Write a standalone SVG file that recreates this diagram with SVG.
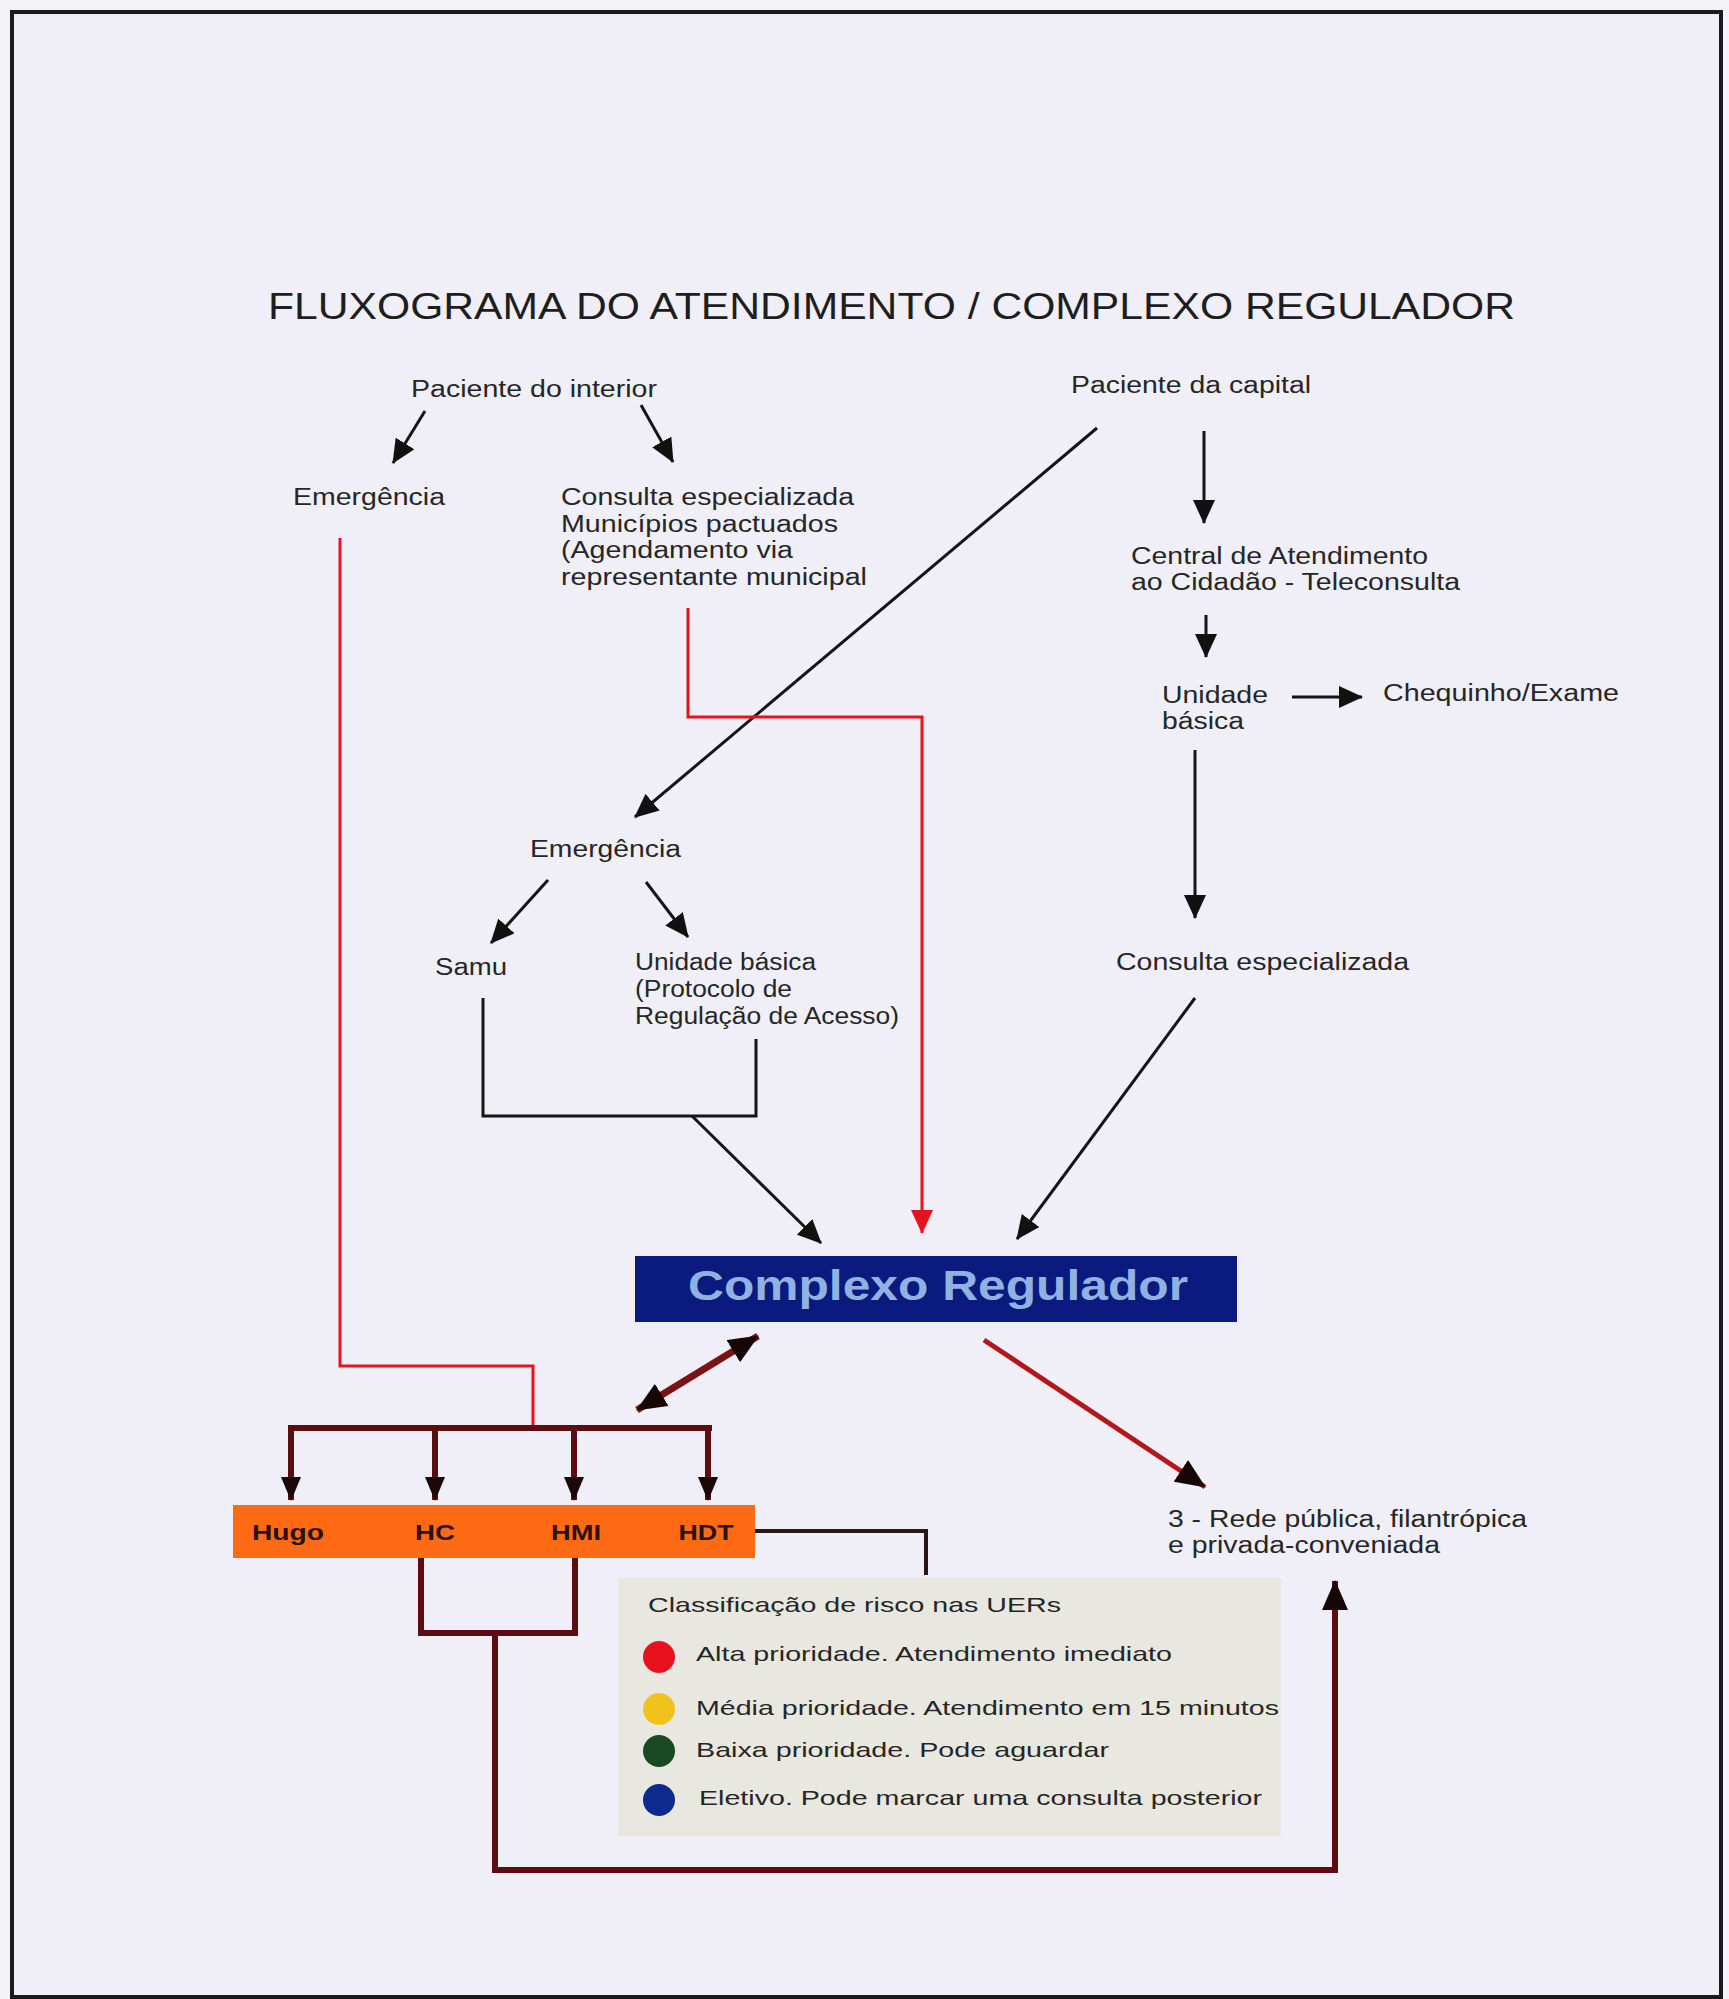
<svg xmlns="http://www.w3.org/2000/svg" width="1729" height="1999" viewBox="0 0 1729 1999">
<style>
.t{font-family:"Liberation Sans",Arial,sans-serif;font-size:23px;fill:#262626;}
.ttl{font-family:"Liberation Sans",Arial,sans-serif;font-size:36px;fill:#1e1e1e;}
.lg{font-family:"Liberation Sans",Arial,sans-serif;font-size:21px;fill:#262626;}
.hb{font-family:"Liberation Sans",Arial,sans-serif;font-size:22px;font-weight:bold;fill:#2a1208;text-anchor:middle;}
.cr{font-family:"Liberation Sans",Arial,sans-serif;font-size:42px;font-weight:bold;fill:#8fb2e2;}
.bk{fill:none;stroke:#151515;stroke-width:3;}
.rd{fill:none;stroke:#e3141c;stroke-width:3;}
.dr{fill:none;stroke:#5c0d12;stroke-width:6;}
</style>
<defs>
<marker id="ab" markerUnits="userSpaceOnUse" markerWidth="24" markerHeight="22" refX="23" refY="11" orient="auto"><path d="M0,0 L24,11 L0,22 z" fill="#111"/></marker>
<marker id="ar" markerUnits="userSpaceOnUse" markerWidth="24" markerHeight="22" refX="23" refY="11" orient="auto"><path d="M0,0 L24,11 L0,22 z" fill="#e3141c"/></marker>
<marker id="ad" markerUnits="userSpaceOnUse" markerWidth="24" markerHeight="20" refX="23" refY="10" orient="auto"><path d="M0,0 L24,10 L0,20 z" fill="#1c0808"/></marker>
<marker id="ae" markerUnits="userSpaceOnUse" markerWidth="30" markerHeight="26" refX="29" refY="13" orient="auto"><path d="M0,0 L30,13 L0,26 z" fill="#160606"/></marker>
<marker id="aes" markerUnits="userSpaceOnUse" markerWidth="30" markerHeight="26" refX="1" refY="13" orient="auto"><path d="M30,0 L0,13 L30,26 z" fill="#160606"/></marker>
</defs>
<rect x="0" y="0" width="1729" height="1999" fill="#f3f2f8"/>
<rect x="12" y="12" width="1709" height="1985" fill="#f0eff7" stroke="#1a1a1a" stroke-width="4"/>

<text class="ttl" x="268" y="319" textLength="1247" lengthAdjust="spacingAndGlyphs">FLUXOGRAMA DO ATENDIMENTO / COMPLEXO REGULADOR</text>

<g id="connectors">
<line class="bk" x1="425" y1="411" x2="393" y2="463" marker-end="url(#ab)"/>
<line class="bk" x1="641" y1="405" x2="673" y2="462" marker-end="url(#ab)"/>
<line class="bk" x1="1097" y1="428" x2="635" y2="817" marker-end="url(#ab)"/>
<line class="bk" x1="1204" y1="431" x2="1204" y2="523" marker-end="url(#ab)"/>
<line class="bk" x1="1206" y1="615" x2="1206" y2="657" marker-end="url(#ab)"/>
<line class="bk" x1="1292" y1="697" x2="1362" y2="697" marker-end="url(#ab)"/>
<line class="bk" x1="1195" y1="750" x2="1195" y2="918" marker-end="url(#ab)"/>
<line class="bk" x1="548" y1="880" x2="491" y2="943" marker-end="url(#ab)"/>
<line class="bk" x1="646" y1="882" x2="688" y2="937" marker-end="url(#ab)"/>
<polyline class="bk" points="483,998 483,1116 756,1116 756,1039"/>
<line class="bk" x1="692" y1="1116" x2="821" y2="1243" marker-end="url(#ab)"/>
<line class="bk" x1="1195" y1="998" x2="1017" y2="1239" marker-end="url(#ab)"/>
<polyline class="rd" points="688,608 688,717 922,717 922,1233" marker-end="url(#ar)"/>
<polyline class="rd" points="340,538 340,1366 533,1366 533,1428"/>
<line class="dr" x1="288" y1="1428" x2="712" y2="1428"/>
<line class="dr" x1="291" y1="1428" x2="291" y2="1500" marker-end="url(#ad)"/>
<line class="dr" x1="435" y1="1428" x2="435" y2="1500" marker-end="url(#ad)"/>
<line class="dr" x1="574" y1="1428" x2="574" y2="1500" marker-end="url(#ad)"/>
<line class="dr" x1="708" y1="1428" x2="708" y2="1500" marker-end="url(#ad)"/>
<line x1="637" y1="1410" x2="758" y2="1336" stroke="#7a1216" stroke-width="7" marker-start="url(#aes)" marker-end="url(#ae)"/>
<line x1="984" y1="1340" x2="1205" y2="1487" stroke="#b3161b" stroke-width="5" marker-end="url(#ae)"/>
<polyline points="755,1531 926,1531 926,1575" fill="none" stroke="#2a1616" stroke-width="4"/>
<polyline class="dr" points="421,1558 421,1633 575,1633 575,1558"/>
<polyline class="dr" points="495,1633 495,1870 1335,1870 1335,1581" marker-end="url(#ae)"/>
</g>

<g id="paciente-interior"><text class="t" x="411" y="397" textLength="246" lengthAdjust="spacingAndGlyphs">Paciente do interior</text></g>
<g id="paciente-capital"><text class="t" x="1071" y="393" textLength="240" lengthAdjust="spacingAndGlyphs">Paciente da capital</text></g>
<g id="emergencia-interior"><text class="t" x="293" y="505" textLength="152" lengthAdjust="spacingAndGlyphs">Emergência</text></g>
<g id="consulta-municipios">
<text class="t" x="561" y="505" textLength="293" lengthAdjust="spacingAndGlyphs">Consulta especializada</text>
<text class="t" x="561" y="532" textLength="277" lengthAdjust="spacingAndGlyphs">Municípios pactuados</text>
<text class="t" x="561" y="558" textLength="232" lengthAdjust="spacingAndGlyphs">(Agendamento via</text>
<text class="t" x="561" y="585" textLength="306" lengthAdjust="spacingAndGlyphs">representante municipal</text>
</g>
<g id="central">
<text class="t" x="1131" y="564" textLength="297" lengthAdjust="spacingAndGlyphs">Central de Atendimento</text>
<text class="t" x="1131" y="590" textLength="329" lengthAdjust="spacingAndGlyphs">ao Cidadão - Teleconsulta</text>
</g>
<g id="unidade-basica-capital">
<text class="t" x="1162" y="703" textLength="106" lengthAdjust="spacingAndGlyphs">Unidade</text>
<text class="t" x="1162" y="729" textLength="82" lengthAdjust="spacingAndGlyphs">básica</text>
</g>
<g id="chequinho"><text class="t" x="1383" y="701" textLength="236" lengthAdjust="spacingAndGlyphs">Chequinho/Exame</text></g>
<g id="emergencia-capital"><text class="t" x="530" y="857" textLength="151" lengthAdjust="spacingAndGlyphs">Emergência</text></g>
<g id="samu"><text class="t" x="435" y="975" textLength="72" lengthAdjust="spacingAndGlyphs">Samu</text></g>
<g id="unidade-basica-protocolo">
<text class="t" x="635" y="970" textLength="181" lengthAdjust="spacingAndGlyphs">Unidade básica</text>
<text class="t" x="635" y="997" textLength="157" lengthAdjust="spacingAndGlyphs">(Protocolo de</text>
<text class="t" x="635" y="1024" textLength="264" lengthAdjust="spacingAndGlyphs">Regulação de Acesso)</text>
</g>
<g id="consulta-capital"><text class="t" x="1116" y="970" textLength="293" lengthAdjust="spacingAndGlyphs">Consulta especializada</text></g>
<g id="complexo-regulador">
<rect x="635" y="1256" width="602" height="66" fill="#0b1a7e"/>
<text class="cr" x="688" y="1300" textLength="500" lengthAdjust="spacingAndGlyphs">Complexo Regulador</text>
</g>
<g id="rede">
<text class="t" x="1168" y="1527" textLength="359" lengthAdjust="spacingAndGlyphs">3 - Rede pública, filantrópica</text>
<text class="t" x="1168" y="1553" textLength="272" lengthAdjust="spacingAndGlyphs">e privada-conveniada</text>
</g>
<g id="hospitais">
<rect x="233" y="1505" width="522" height="53" fill="#ff6b14"/>
<text class="hb" x="288" y="1540" textLength="72" lengthAdjust="spacingAndGlyphs">Hugo</text>
<text class="hb" x="435" y="1540" textLength="40" lengthAdjust="spacingAndGlyphs">HC</text>
<text class="hb" x="576" y="1540" textLength="50" lengthAdjust="spacingAndGlyphs">HMI</text>
<text class="hb" x="706" y="1540" textLength="55" lengthAdjust="spacingAndGlyphs">HDT</text>
</g>
<g id="legenda">
<rect x="618" y="1578" width="663" height="258" fill="#e9e8e0"/>
<text class="lg" x="648" y="1612" textLength="413" lengthAdjust="spacingAndGlyphs">Classificação de risco nas UERs</text>
<circle cx="659" cy="1657" r="16" fill="#e8121e"/>
<text class="lg" x="696" y="1661" textLength="476" lengthAdjust="spacingAndGlyphs">Alta prioridade. Atendimento imediato</text>
<circle cx="659" cy="1709" r="16" fill="#f2c21c"/>
<text class="lg" x="696" y="1715" textLength="583" lengthAdjust="spacingAndGlyphs">Média prioridade. Atendimento em 15 minutos</text>
<circle cx="659" cy="1751" r="16" fill="#1b4a22"/>
<text class="lg" x="696" y="1757" textLength="413" lengthAdjust="spacingAndGlyphs">Baixa prioridade. Pode aguardar</text>
<circle cx="659" cy="1800" r="16" fill="#0e2a8c"/>
<text class="lg" x="699" y="1805" textLength="563" lengthAdjust="spacingAndGlyphs">Eletivo. Pode marcar uma consulta posterior</text>
</g>
</svg>
